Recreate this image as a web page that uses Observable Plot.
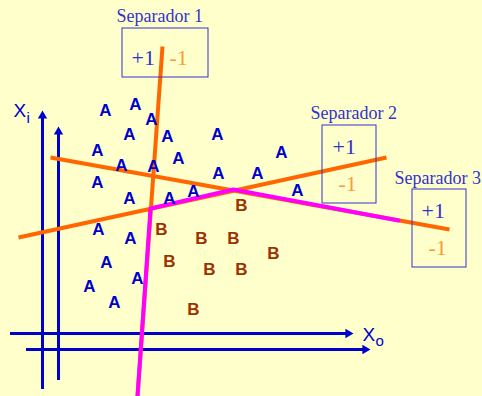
<!DOCTYPE html>
<html><head><meta charset="utf-8">
<script src="https://cdn.jsdelivr.net/npm/d3@7"></script>
<script src="https://cdn.jsdelivr.net/npm/@observablehq/plot@0.6"></script>
<style>html,body{margin:0;padding:0;background:#FFFFCC;}</style>
</head><body><div id="chart"></div>
<script>
// Diagram coordinates (x to the right, y downward)
const classA = [[105,110],[135,104],[151,119],[129,134],[167,136],[217,134],[97,150],[178,158],[281,152],
  [121,165],[153,166],[97,182],[218,173],[257,173],[129,198],[169,198],[193,191],[297,190],
  [98,229],[130,238],[106,262],[137,278],[89,286],[114,302]];
const classB = [[241,205],[161,229],[201,238],[233,238],[273,253],[169,261],[209,269],[241,269],[193,309]];
const separatorNames = ["Separador 1","Separador 2","Separador 3"];
const separatorStart = [[162,46],[18,237],[50,157]];
const separatorEnd = [[137,396],[386,157],[449,229]];
const envelope = [[137,396],[150,208],[233,189],[398,220]];
const verticalAxes = [{x:42, bottom:389, tip:110},{x:58, bottom:380, tip:126}];
const horizontalAxes = [{y:333, left:10, tip:353},{y:349, left:26, tip:370}];
const boxCorners = [[122,28,208,77],[322,125,376,203],[412,189,466,267]];
const titleAnchors = [[116,21],[310,118],[394,183]];
const plusAnchors = [[131,64],[332,153],[421,217]];
const minusAnchors = [[169,64],[338,190],[428,254]];

const separators = separatorNames.map((name,i)=>({name, x1:separatorStart[i][0], y1:separatorStart[i][1], x2:separatorEnd[i][0], y2:separatorEnd[i][1]}));
const boxes = boxCorners.map((b,i)=>({x1:b[0],y1:b[1],x2:b[2],y2:b[3], name:separatorNames[i],
  tx:titleAnchors[i][0], ty:titleAnchors[i][1], px:plusAnchors[i][0], py:plusAnchors[i][1], mx:minusAnchors[i][0], my:minusAnchors[i][1]}));

const BLUE = "#0000CC", TBLUE = "#3333CC", ORANGE = "#FF6600", MAGENTA = "#FF00FF", BROWN = "#993300", LORANGE = "#FF9933";
const head = 2.7; // half-height unit of triangle head
const headR = Math.sqrt(head*head*3*Math.sqrt(3)/Math.PI);
const sans = "Liberation Sans, Arial, sans-serif";
const serif = "Liberation Serif, Times New Roman, serif";

const chart = Plot.plot({
  width: 482, height: 396, margin: 0,
  x: {domain:[0,482], range:[0,482], axis:null},
  y: {domain:[0,396], range:[0,396], axis:null},
  style: {background:"#FFFFCC"},
  marks: [
    Plot.ruleX(verticalAxes, {x:"x", y1:"bottom", y2:d=>d.tip+4, stroke:BLUE, strokeWidth:3}),
    Plot.dot(verticalAxes, {x:"x", y:d=>d.tip+2*head, symbol:"triangle", r:headR, fill:BLUE}),
    Plot.ruleY(horizontalAxes, {y:"y", x1:"left", x2:d=>d.tip-4, stroke:BLUE, strokeWidth:3}),
    Plot.dot(horizontalAxes, {x:d=>d.tip-2*head, y:"y", symbol:"triangle", rotate:90, r:headR, fill:BLUE}),
    Plot.link(separators, {x1:"x1", y1:"y1", x2:"x2", y2:"y2", stroke:ORANGE, strokeWidth:4}),
    Plot.line(envelope, {x:d=>d[0], y:d=>d[1], stroke:MAGENTA, strokeWidth:4}),
    Plot.text(classA, {x:d=>d[0], y:d=>d[1], text:()=>"A", fill:BLUE, fontSize:17, fontWeight:"bold", fontFamily:sans}),
    Plot.text(classB, {x:d=>d[0], y:d=>d[1], text:()=>"B", fill:BROWN, fontSize:17, fontWeight:"bold", fontFamily:sans}),
    Plot.rect(boxes, {x1:"x1", y1:"y1", x2:"x2", y2:"y2", fill:"none", stroke:TBLUE, strokeWidth:1}),
    Plot.text(boxes, {x:"tx", y:"ty", text:"name", fill:TBLUE, fontSize:18, fontFamily:serif, textAnchor:"start", lineAnchor:"bottom"}),
    Plot.text(boxes, {x:"px", y:"py", text:()=>"+1", fill:TBLUE, fontSize:22, fontFamily:serif, textAnchor:"start", lineAnchor:"bottom"}),
    Plot.text(boxes, {x:"mx", y:"my", text:()=>"-1", fill:LORANGE, fontSize:22, fontFamily:serif, textAnchor:"start", lineAnchor:"bottom"}),
    Plot.text([[13,116]], {x:d=>d[0], y:d=>d[1], text:()=>"X", fill:BLUE, fontSize:19, fontFamily:sans, textAnchor:"start", lineAnchor:"bottom"}),
    Plot.text([[26,122]], {x:d=>d[0], y:d=>d[1], text:()=>"i", fill:BLUE, fontSize:15, fontFamily:sans, textAnchor:"start", lineAnchor:"bottom"}),
    Plot.text([[362,340]], {x:d=>d[0], y:d=>d[1], text:()=>"X", fill:BLUE, fontSize:19, fontFamily:sans, textAnchor:"start", lineAnchor:"bottom"}),
    Plot.text([[375,345]], {x:d=>d[0], y:d=>d[1], text:()=>"o", fill:BLUE, fontSize:15, fontFamily:sans, textAnchor:"start", lineAnchor:"bottom"})
  ]
});
document.getElementById("chart").appendChild(chart);
</script>
</body></html>
